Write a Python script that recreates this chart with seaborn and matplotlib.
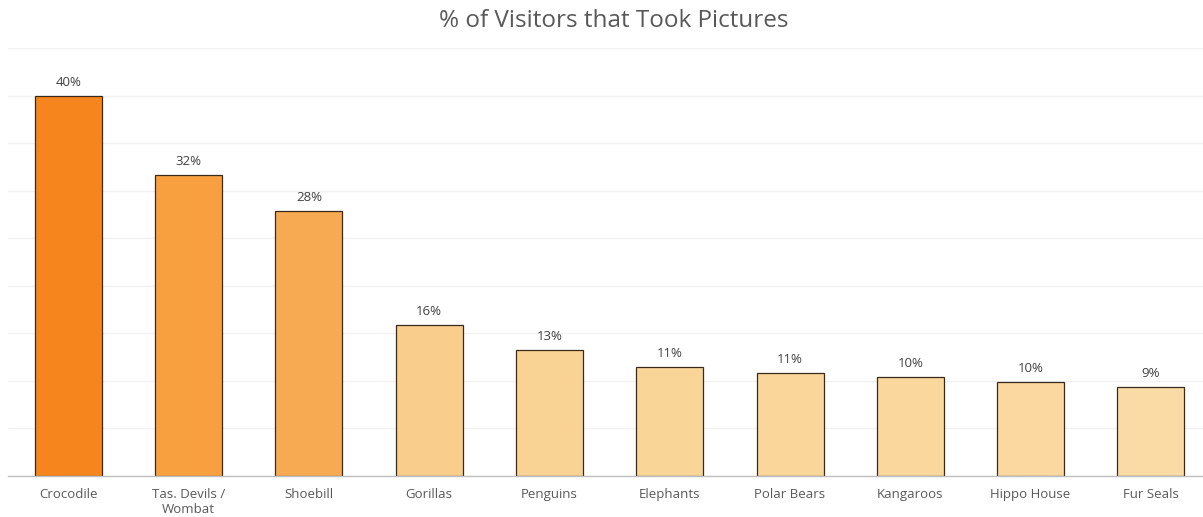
import matplotlib
matplotlib.use("Agg")
import matplotlib.pyplot as plt
import seaborn as sns
import pandas as pd

# Share of visitors who took pictures at each exhibit (%)
exhibits = ["Crocodile", "Tas. Devils /\nWombat", "Shoebill", "Gorillas", "Penguins",
            "Elephants", "Polar Bears", "Kangaroos", "Hippo House", "Fur Seals"]
pct_pictures = [40.0, 31.6, 27.9, 15.9, 13.2, 11.4, 10.8, 10.4, 9.9, 9.3]
bar_colors = ["#F7851D", "#F8A03F", "#F8AA52", "#F9CE8D", "#F9D393",
              "#FAD598", "#FAD69A", "#FAD79C", "#FAD8A0", "#FADBA6"]
y_ticks = [0, 5, 10, 15, 20, 25, 30, 35, 40, 45]

df = pd.DataFrame({"exhibit": exhibits, "pct": pct_pictures})

sns.set_theme(style="white")
plt.rcParams["font.family"] = ["Open Sans", "DejaVu Sans"]

W, H = 1203, 517
fig = plt.figure(figsize=(W / 100, H / 100), dpi=100)
left_px, right_px, top_px, bottom_px = 8.3, 1211.0, 48.0, 475.7
ax = fig.add_axes([left_px / W, 1 - bottom_px / H,
                   (right_px - left_px) / W, (bottom_px - top_px) / H])

sns.barplot(data=df, x="exhibit", y="pct", hue="exhibit", palette=bar_colors,
            legend=False, width=0.557, edgecolor="#3a2a1a", linewidth=0.9,
            saturation=1, ax=ax)

ax.set_xlim(-0.5, len(exhibits) - 0.5)
ax.set_ylim(0, 45)
ax.set_yticks(y_ticks)
ax.yaxis.grid(True, color="#F2F2F2", linewidth=1)
ax.set_axisbelow(True)
ax.tick_params(axis="y", left=False, labelleft=False)
ax.tick_params(axis="x", bottom=False, colors="#595959", labelsize=9.5, pad=3)
for lbl in ax.get_xticklabels():
    lbl.set_linespacing(1.15)
for s in ["top", "right", "left"]:
    ax.spines[s].set_visible(False)
ax.spines["bottom"].set_color("#BFBFBF")
ax.spines["bottom"].set_linewidth(1)
ax.set_xlabel("")
ax.set_ylabel("")

for i, v in enumerate(pct_pictures):
    ax.annotate(f"{round(v):.0f}%", (i, v), xytext=(0, 5), textcoords="offset points",
                ha="center", va="bottom", fontsize=9.5, color="#404040")

fig.text(614 / W, 1 - 21 / H, "% of Visitors that Took Pictures", ha="center",
         va="center", fontsize=17.5, color="#595959")

fig.savefig("out.png", dpi=100)
